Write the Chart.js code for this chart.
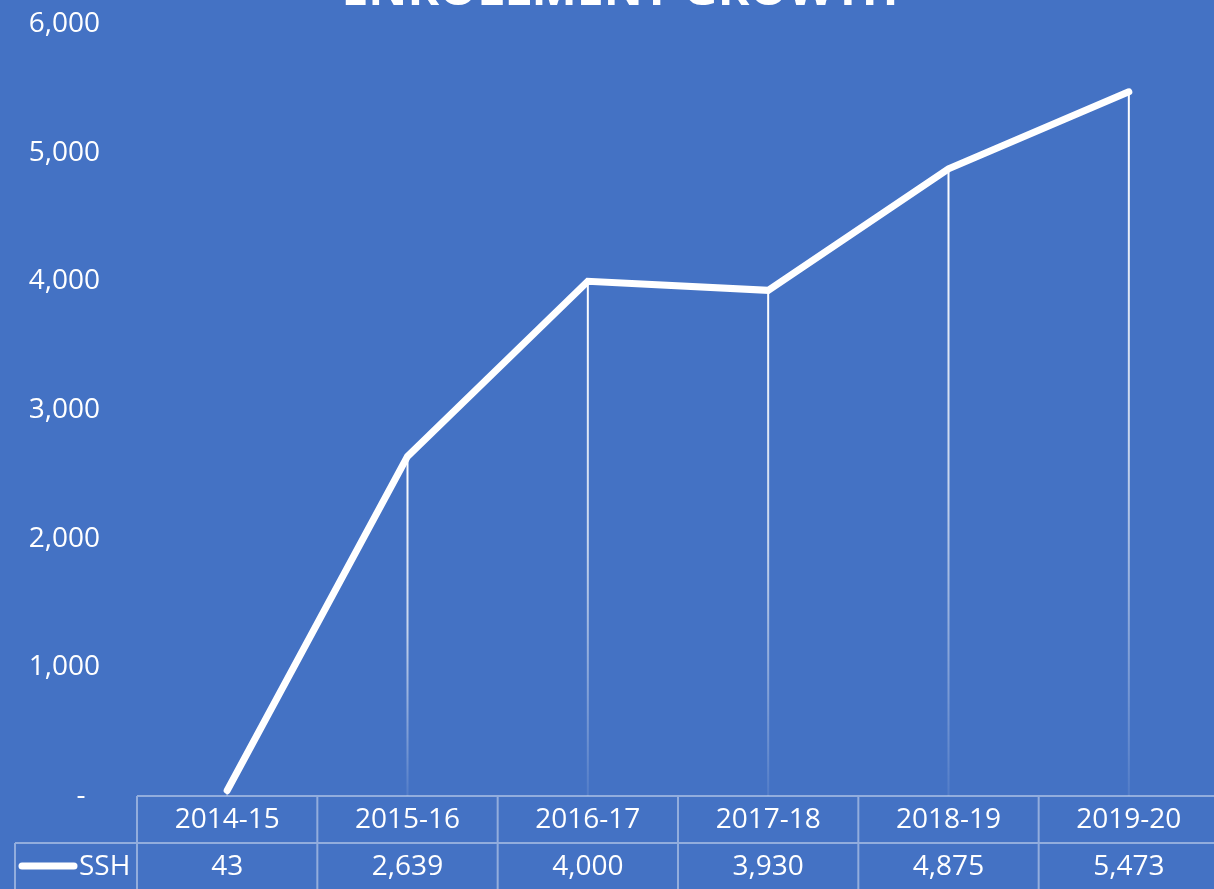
<!DOCTYPE html>
<html>
<head>
<meta charset="utf-8">
<script src="https://cdn.jsdelivr.net/npm/chart.js@4/dist/chart.umd.min.js"></script>
<style>
  html, body { margin: 0; padding: 0; background: #4472C4; overflow: hidden; }
  #wrap { width: 1214px; height: 889px; overflow: hidden; }
</style>
</head>
<body>
<div id="wrap"><canvas id="myChart" width="1220" height="889"></canvas></div>
<script>
// data
var years = ['2014-15', '2015-16', '2016-17', '2017-18', '2018-19', '2019-20'];
var ssh = [43, 2639, 4000, 3930, 4875, 5473];
var seriesName = 'SSH';
var chartTitle = 'ENROLLMENT GROWTH';

var BG = '#4472C4';
var FONT = '"Open Sans", sans-serif';
var GRIDLINE = 'rgba(255,255,255,0.42)';

function fmt(v){
	if(v == 0) return '-  ';
	return v.toLocaleString('en-US');
}

//background + title
var decoPlugin = {
	id: 'deco',
	beforeDraw: function(chart){
		var ctx = chart.ctx;
		ctx.save();
		ctx.fillStyle = BG;
		ctx.fillRect(0, 0, chart.width, chart.height);
		ctx.restore();
	},
	afterDraw: function(chart){
		var ctx = chart.ctx;
		ctx.save();
		ctx.fillStyle = '#ffffff';
		ctx.font = 'bold 48px ' + FONT;
		ctx.textAlign = 'center';
		ctx.textBaseline = 'alphabetic';
		ctx.fillText(chartTitle, 620, 5);
		ctx.restore();
	}
};

//vertical drop lines from each point to the axis
var dropPlugin = {
	id: 'drops',
	beforeDatasetsDraw: function(chart){
		var ctx = chart.ctx;
		var x = chart.scales.x, y = chart.scales.y;
		var base = y.getPixelForValue(0);
		ctx.save();
		ssh.forEach(function(v, i){
			var px = x.getPixelForValue(i);
			var py = y.getPixelForValue(v);
			var g = ctx.createLinearGradient(0, py, 0, base);
			g.addColorStop(0, 'rgba(255,255,255,1)');
			g.addColorStop(0.5, 'rgba(255,255,255,0.7)');
			g.addColorStop(1, 'rgba(255,255,255,0.08)');
			ctx.strokeStyle = g;
			ctx.lineWidth = 2;
			ctx.beginPath();
			ctx.moveTo(px, py);
			ctx.lineTo(px, base);
			ctx.stroke();
		});
		ctx.restore();
	}
};

//data table under the plot
var tablePlugin = {
	id: 'dataTable',
	afterDraw: function(chart){
		var ctx = chart.ctx;
		var x = chart.scales.x;
		var area = chart.chartArea;
		var colW = x.getPixelForValue(1) - x.getPixelForValue(0);
		var top = area.bottom;
		var mid = top + 47;
		var bot = top + 94;
		var legendLeft = 15;

		ctx.save();
		ctx.strokeStyle = GRIDLINE;
		ctx.lineWidth = 2;
		ctx.beginPath();
		ctx.moveTo(area.left, top); ctx.lineTo(area.right, top);
		ctx.moveTo(legendLeft, mid); ctx.lineTo(area.right, mid);
		ctx.moveTo(legendLeft, bot); ctx.lineTo(area.right, bot);
		ctx.moveTo(legendLeft, mid); ctx.lineTo(legendLeft, bot);
		for(var i = 0; i <= years.length; i++){
			var lx = x.getPixelForValue(0) - colW / 2 + i * colW;
			ctx.moveTo(lx, top); ctx.lineTo(lx, bot);
		}
		ctx.stroke();

		ctx.fillStyle = '#ffffff';
		ctx.font = '28px ' + FONT;
		ctx.textAlign = 'center';
		ctx.textBaseline = 'middle';
		years.forEach(function(yr, i){
			var cx = x.getPixelForValue(i);
			ctx.fillText(yr, cx, top + 24);
			ctx.fillText(fmt(ssh[i]), cx, mid + 24);
		});

		// legend key
		ctx.strokeStyle = '#ffffff';
		ctx.lineWidth = 7;
		ctx.lineCap = 'round';
		ctx.beginPath();
		ctx.moveTo(22, mid + 23);
		ctx.lineTo(74, mid + 23);
		ctx.stroke();
		ctx.textAlign = 'left';
		ctx.fillText(seriesName, 79, mid + 24);
		ctx.restore();
	}
};

var ctx = document.getElementById('myChart');
var myChart = new Chart(ctx, {
	type: 'line',
	data: {
		labels: years,
		datasets: [{
			label: seriesName,
			data: ssh,
			borderColor: '#ffffff',
			borderWidth: 7,
			borderCapStyle: 'round',
			borderJoinStyle: 'miter',
			pointRadius: 0,
			pointHoverRadius: 0,
			fill: false,
			tension: 0
		}]
	},
	options: {
		responsive: false,
		animation: false,
		devicePixelRatio: 1,
		layout: {
			autoPadding: false,
			padding: { left: 0, right: 1, top: 24, bottom: 93 }
		},
		plugins: {
			legend: { display: false },
			title: { display: false },
			tooltip: { enabled: false }
		},
		scales: {
			x: {
				display: false,
				offset: true
			},
			y: {
				min: 0,
				max: 6000,
				afterFit: function(scale){
					scale.width = 137;
					scale.paddingTop = 0;
					scale.paddingBottom = 0;
				},
				grid: { display: false, drawTicks: false },
				border: { display: false },
				ticks: {
					stepSize: 1000,
					padding: 37,
					color: '#ffffff',
					font: { family: FONT, size: 28 },
					callback: function(v){ return fmt(v); }
				}
			}
		}
	},
	plugins: [decoPlugin, dropPlugin, tablePlugin]
});
</script>
</body>
</html>
